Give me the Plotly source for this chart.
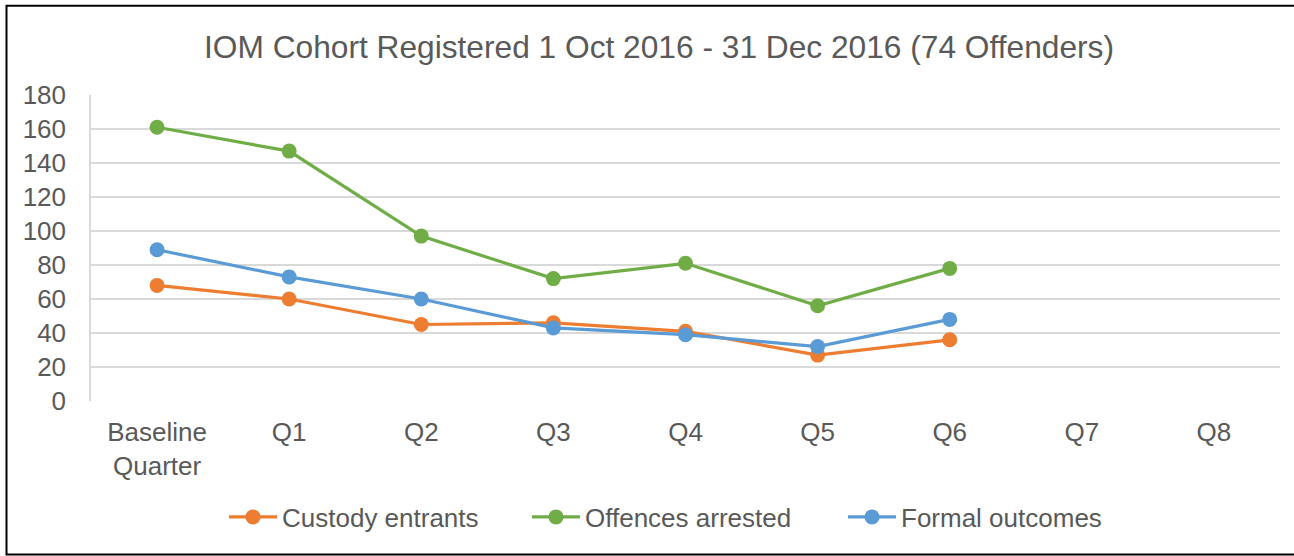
import plotly.graph_objects as go

categories = ["Baseline<br>Quarter", "Q1", "Q2", "Q3", "Q4", "Q5", "Q6", "Q7", "Q8"]
custody_entrants = [68, 60, 45, 46, 41, 27, 36, None, None]
offences_arrested = [161, 147, 97, 72, 81, 56, 78, None, None]
formal_outcomes = [89, 73, 60, 43, 39, 32, 48, None, None]
y_ticks = [0, 20, 40, 60, 80, 100, 120, 140, 160, 180]

FONT = "Liberation Sans, Arial, sans-serif"
GREY = "#595959"

series = [
    ("Custody entrants", custody_entrants, "#ED7D31", "legend", 224),
    ("Offences arrested", offences_arrested, "#70AD47", "legend2", 527),
    ("Formal outcomes", formal_outcomes, "#5B9BD5", "legend3", 843),
]

L, R, T, B = 91, 14, 95, 155
W, H = 1294, 556
pw, ph = W - L - R, H - T - B

def px_x(p):
    return (p - L) / pw

def px_y(p):
    return (H - B - p) / ph

fig = go.Figure()
legends = {}
for name, vals, col, lg, lx in series:
    fig.add_trace(go.Scatter(
        x=categories, y=vals, name=name, mode="lines+markers",
        line=dict(color=col, width=3.2),
        marker=dict(color=col, size=15),
        connectgaps=False, legend=lg, showlegend=True,
    ))
    legends[lg] = dict(orientation="h", x=px_x(lx), xanchor="left", xref="paper",
                       y=px_y(517), yref="paper", yanchor="middle",
                       font=dict(size=26, color=GREY, family=FONT),
                       itemwidth=48, bgcolor="rgba(0,0,0,0)", visible=True)

fig.update_layout(
    width=W, height=H, showlegend=True,
    margin=dict(l=L, r=R, t=T, b=B, autoexpand=False),
    paper_bgcolor="white", plot_bgcolor="white",
    font=dict(family=FONT, color=GREY, size=26),
    title=dict(text="IOM Cohort Registered 1 Oct 2016 - 31 Dec 2016 (74 Offenders)",
               x=px_x(659), xref="paper", xanchor="center",
               y=1 - 47 / H, yref="container", yanchor="middle",
               font=dict(size=31.7, color=GREY, family=FONT)),
    xaxis=dict(
        type="category", categoryorder="array", categoryarray=categories,
        range=[-0.5, 8.5], showgrid=False, zeroline=False, showline=False,
        ticks="", ticklabelstandoff=13,
        tickfont=dict(size=26, color=GREY, family=FONT),
    ),
    yaxis=dict(
        range=[0, 180], tickvals=y_ticks, showgrid=True, gridcolor="#D9D9D9",
        gridwidth=1.5, zeroline=False, showline=True, linecolor="#D9D9D9",
        linewidth=1.5, ticks="", ticklabelstandoff=18,
        tickfont=dict(size=26, color=GREY, family=FONT),
    ),
    shapes=[dict(type="rect", xref="paper", yref="paper",
                 x0=px_x(6.5), x1=px_x(1300), y0=px_y(554.5), y1=px_y(5.7),
                 line=dict(color="black", width=2), fillcolor="rgba(0,0,0,0)",
                 layer="above")],
    **legends,
)

fig.write_html("out.html", config={"displayModeBar": False},
               post_script="document.body.style.margin='0px';")
